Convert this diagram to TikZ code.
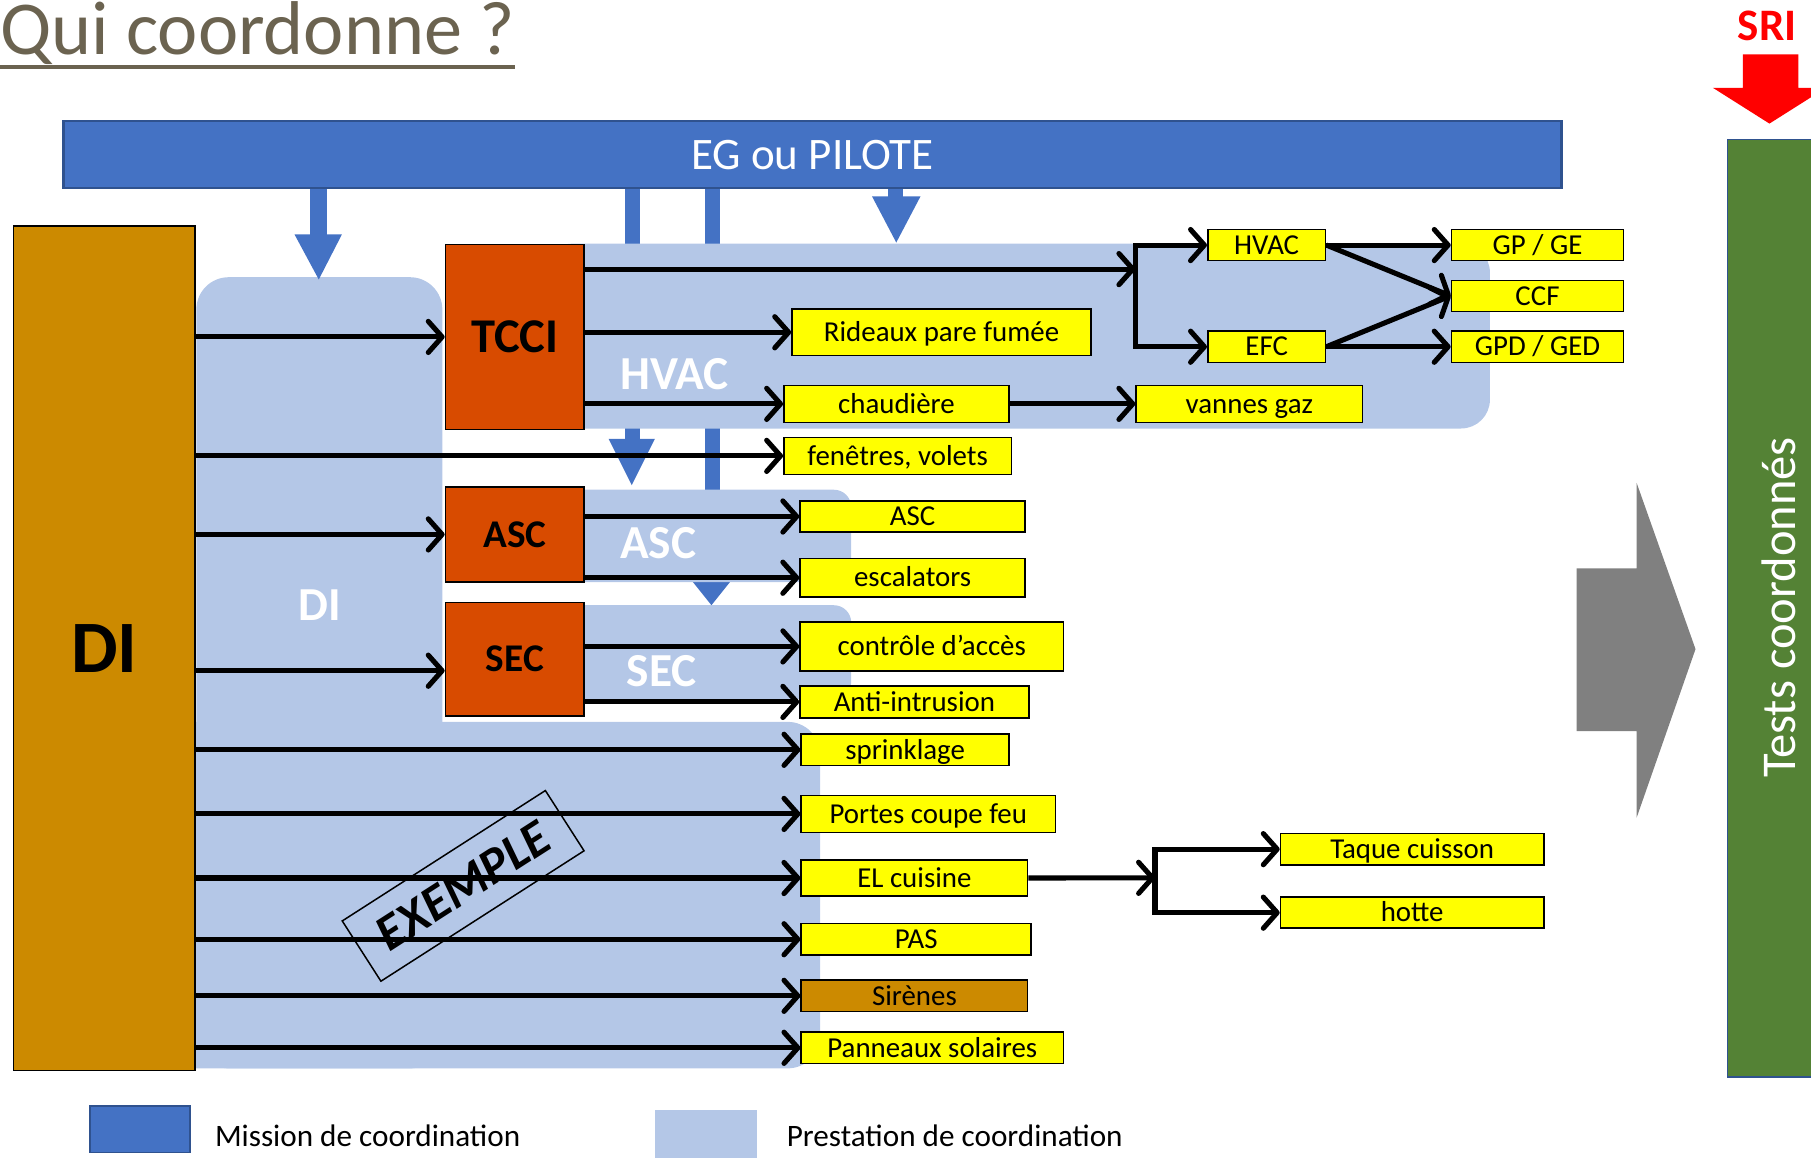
\documentclass[tikz,border=0pt]{standalone}
\usepackage{fontspec}
\setmainfont{Carlito}
\usepackage{tikz}
\usetikzlibrary{arrows.meta,positioning,calc}

\definecolor{egblue}{HTML}{4472C4}
\definecolor{egline}{HTML}{2F528F}
\definecolor{prest}{HTML}{B4C7E7}
\definecolor{diorange}{HTML}{CC8A00}
\definecolor{lotred}{HTML}{D84B00}
\definecolor{yel}{HTML}{FFFF00}
\definecolor{testgreen}{HTML}{548235}
\definecolor{titlec}{HTML}{6B6350}
\newcommand\fsz[1]{\fontsize{#1}{#1}\selectfont}

\begin{document}
\begin{tikzpicture}[x=1pt, y=-1pt,
  yb/.style={draw, line width=1.4pt, fill=yel, inner sep=0pt, anchor=north west, minimum height=27pt,
    text height=16pt, text depth=0pt, font=\fsz{25}},
  lot/.style={draw, line width=1.4pt, fill=lotred, inner sep=0pt, anchor=north west, minimum width=120pt, font=\bfseries\fsz{34}},
  zone/.style={text=white, inner sep=0pt, font=\bfseries\fsz{41}},
  arr/.style={line width=4.4pt, -{Straight Barb[length=12pt,width=27pt,round]}},
  ln/.style={line width=4.4pt, line cap=rect},
  miss/.style={fill=egblue}]
\useasboundingbox (0,0) rectangle (1568,1002);

% mission arrows running behind the zones
\fill[miss] (541,163) rectangle (554,382);
\fill[miss] (527,380) -- (567,380) -- (547,420) -- cycle;
\fill[miss] (610,163) rectangle (623,506);
\fill[miss] (600,504) -- (632,504) -- (616,524) -- cycle;

% prestation zones
\fill[prest, rounded corners=28pt] (170,925) rectangle (383,240);
\fill[prest, rounded corners=28pt] (100,625) rectangle (710,925);
\fill[prest, rounded corners=25pt] (470,211) rectangle (1290,371);
\fill[prest, rounded corners=15pt] (470,424) rectangle (737,504);
\fill[prest, rounded corners=15pt] (470,524) rectangle (737,605);
\node[zone] (zdi)  at (277,524) {DI};
\node[zone] (zhv)  at (584,324) {HVAC};
\node[zone] (zasc) at (570,470) {ASC};
\node[zone] (zsec) at (573,581) {SEC};

\fill[miss] (268,160) rectangle (283,205);
\fill[miss] (255,203) -- (296,203) -- (276,242) -- cycle;
\fill[miss] (769,160) rectangle (782,172);
\fill[miss] (755,170) -- (797,170) -- (776,210) -- cycle;

\node[draw=egline, line width=2pt, fill=egblue, text=white, inner sep=0pt,
  minimum width=1297pt, minimum height=58pt, font=\fsz{39}] (EG) at (703.5,134) {EG ou PILOTE};

% title
\node[anchor=base west, inner sep=0pt, text=titlec, font=\fsz{66}] (title) at (0,47) {Qui coordonne ?};
\draw[titlec, line width=3pt] ([yshift=-11pt]title.base west) -- ([yshift=-11pt]title.base east);

% DI and lots
\node[draw, line width=1.5pt, fill=diorange, anchor=north west, inner sep=0pt,
  minimum width=157pt, minimum height=731pt, font=\bfseries\fsz{64}] (DI) at (11,195) {DI};
\node[lot, minimum height=160pt, font=\bfseries\fsz{42}] (TCCI) at (385,211) {TCCI};
\node[lot, minimum height=82pt] (ASC) at (385,421) {ASC};
\node[lot, minimum height=98pt] (SEC) at (385,521) {SEC};

% equipments
\node[yb, minimum width=102pt] (hv)   at (1045,198) {HVAC};
\node[yb, minimum width=102pt] (efc)  at (1045,286) {EFC};
\node[yb, minimum width=149pt] (gpge) at (1256,198) {GP / GE};
\node[yb, minimum width=149pt] (ccf)  at (1256,242) {CCF};
\node[yb, minimum width=149pt] (gped) at (1256,286) {GPD / GED};
\node[yb, minimum width=259pt, minimum height=40pt] (rid) at (685,267) {Rideaux pare fumée};
\node[yb, minimum width=195pt, minimum height=32pt] (chau) at (678,333) {chaudière};
\node[yb, minimum width=196pt, minimum height=32pt] (vg) at (983,333) {vannes gaz};
\node[yb, minimum width=197pt, minimum height=32pt] (fen) at (678,378) {fenêtres, volets};
\node[yb, minimum width=195pt] (ascy) at (692,433) {ASC};
\node[yb, minimum width=195pt, minimum height=33pt] (esc) at (692,483) {escalators};
\node[yb, minimum width=228pt, minimum height=42pt] (ctrl) at (692,538) {contrôle d’accès};
\node[yb, minimum width=198pt, minimum height=28pt] (anti) at (692,593) {Anti-intrusion};
\node[yb, minimum width=180pt] (spr) at (693,635) {sprinklage};
\node[yb, minimum width=220pt, minimum height=32pt] (por) at (693,688) {Portes coupe feu};
\node[yb, minimum width=196pt, minimum height=31pt] (elc) at (693,744) {EL cuisine};
\node[yb, minimum width=199pt] (pas) at (693,799) {PAS};
\node[yb, minimum width=196pt, fill=diorange] (sir) at (693,848) {Sirènes};
\node[yb, minimum width=227pt] (pan) at (693,893) {Panneaux solaires};
\node[yb, minimum width=228pt] (taq) at (1108,721) {Taque cuisson};
\node[yb, minimum width=228pt] (hot) at (1108,776) {hotte};

% connectors
\draw[arr] (DI.east |- TCCI.west) -- (TCCI.west);
\draw[arr] (DI.east |- ASC.west) -- (ASC.west);
\draw[arr] ([yshift=-10pt]DI.east |- SEC.west) -- ([yshift=-10pt]SEC.west);
\foreach \t in {fen,spr,por,elc,pas,sir,pan}
  \draw[arr] (DI.east |- \t.west) -- (\t.west);

\coordinate (hj) at (983,233);
\draw[arr] (TCCI.east |- hj) -- (hj);
\draw[ln] (hj |- hv.west) -- (hj |- efc.west);
\draw[arr] (hj |- hv.west) -- (hv.west);
\draw[arr] (hj |- efc.west) -- (efc.west);
\draw[arr] (hv.east) -- (gpge.west);
\draw[arr] (hv.east) -- (ccf.west);
\draw[arr] (efc.east) -- (ccf.west);
\draw[arr] (efc.east) -- (gped.west);
\draw[arr] (TCCI.east |- rid.west) -- (rid.west);
\draw[arr] (TCCI.east |- chau.west) -- (chau.west);
\draw[arr] (chau.east) -- (vg.west);

\foreach \t in {ascy,esc}
  \draw[arr] (ASC.east |- \t.west) -- (\t.west);
\foreach \t in {ctrl,anti}
  \draw[arr] (SEC.east |- \t.west) -- (\t.west);

\coordinate (ej) at (1000,760);
\draw[arr] (elc.east) -- (ej);
\draw[ln] (ej |- taq.west) -- (ej |- hot.west);
\draw[arr] (ej |- taq.west) -- (taq.west);
\draw[arr] (ej |- hot.west) -- (hot.west);

% stamp
\node[draw, line width=1.3pt, rotate=32.7, inner sep=0pt, minimum width=209pt, minimum height=62pt,
  font=\bfseries\itshape\fsz{44}] (ex) at (401,767) {EXEMPLE};

% tests
\fill[gray] (1365,492) -- (1417,492) -- (1417,418) -- (1468,562) -- (1417,708) -- (1417,633) -- (1365,633) -- cycle;
\node[draw=egline, line width=1.5pt, fill=testgreen, anchor=north west, inner sep=0pt,
  minimum width=120pt, minimum height=812pt] (tests) at (1495,120) {};
\node[rotate=90, text=white, inner sep=0pt, font=\fsz{42}] (tsttxt) at (1540,526) {Tests coordonnés};
\node[text=red, inner sep=0pt, font=\bfseries\fsz{39}] (sri) at (1530,22) {SRI};
\fill[red] (1509,47) -- (1557,47) -- (1557,76) -- (1581,76) -- (1532,107) -- (1483,76) -- (1509,76) -- cycle;

% legend
\node[draw=egline, line width=1.5pt, fill=egblue, anchor=north west, inner sep=0pt,
  minimum width=87pt, minimum height=40pt] (legm) at (77,957) {};
\node[anchor=west, inner sep=0pt, font=\fsz{27}] (legmtxt) at (186,983) {Mission de coordination};
\node[fill=prest, anchor=north west, inner sep=0pt, minimum width=88pt, minimum height=45pt] (legp) at (567,961) {};
\node[anchor=west, inner sep=0pt, font=\fsz{27}] (legptxt) at (681,983) {Prestation de coordination};
\end{tikzpicture}
\end{document}
